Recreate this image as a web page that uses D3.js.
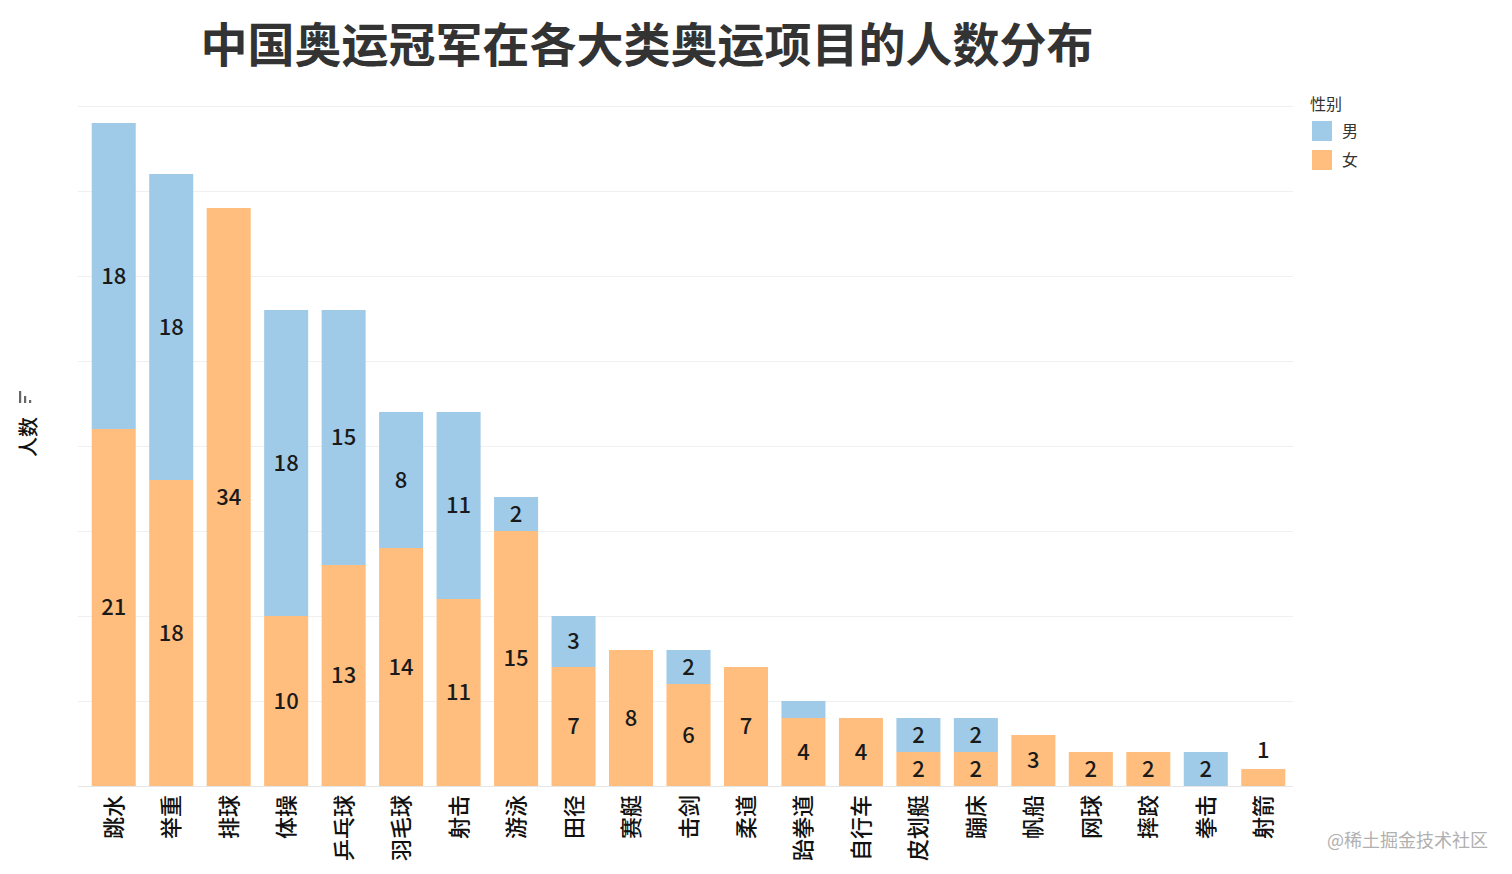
<!DOCTYPE html>
<html>
<head>
<meta charset="utf-8">
<script src="https://cdn.jsdelivr.net/npm/d3@7"></script>
<style>
  html, body { margin: 0; padding: 0; background: #fff; }
  svg { display: block; font-family: "Noto Sans CJK SC", "Noto Sans", sans-serif; }
</style>
</head>
<body>
<div id="chart"></div>
<script>
// 数据
const sports = ['跳水', '举重', '排球', '体操', '乒乓球', '羽毛球', '射击', '游泳', '田径', '赛艇',
  '击剑', '柔道', '跆拳道', '自行车', '皮划艇', '蹦床', '帆船', '网球', '摔跤', '拳击', '射箭'];
const female = [21, 18, 34, 10, 13, 14, 11, 15, 7, 8, 6, 7, 4, 4, 2, 2, 3, 2, 2, 0, 1];
const male = [18, 18, 0, 18, 15, 8, 11, 2, 3, 0, 2, 0, 1, 0, 2, 2, 0, 0, 0, 2, 0];
const genders = ['男', '女'];
const yTicks = [0, 5, 10, 15, 20, 25, 30, 35, 40];

const config = {
  width: 1512,
  height: 874,
  plot: { left: 85, right: 1292, top: 106, bottom: 786 },
  colors: { '男': '#a0cbe8', '女': '#ffbe7d' }
};

const svg = d3.select('#chart').append('svg')
  .attr('width', config.width)
  .attr('height', config.height);

const rows = sports.map((s, i) => ({ sport: s, 女: female[i], 男: male[i] }));
// 女在下，男在上
const stacked = d3.stack().keys(['女', '男'])(rows);

const xScale = d3.scaleBand()
  .domain(sports)
  .range([config.plot.left, config.plot.right])
  .paddingInner(0.234)
  .paddingOuter(0.117);

const yScale = d3.scaleLinear()
  .domain([0, 40])
  .range([config.plot.bottom, config.plot.top]);

// 网格线
svg.append('g')
  .selectAll('line')
  .data(yTicks)
  .join('line')
  .attr('x1', 78)
  .attr('x2', 1293)
  .attr('y1', d => yScale(d) + 0.5)
  .attr('y2', d => yScale(d) + 0.5)
  .attr('stroke', d => d === 0 ? '#e6e6e6' : '#f0f0f0')
  .attr('stroke-width', 1);

// 柱子
const layers = svg.append('g').selectAll('g')
  .data(stacked)
  .join('g')
  .attr('fill', d => config.colors[d.key]);

layers.selectAll('rect')
  .data(d => d)
  .join('rect')
  .attr('x', d => xScale(d.data.sport))
  .attr('y', d => yScale(d[1]))
  .attr('width', xScale.bandwidth())
  .attr('height', d => yScale(d[0]) - yScale(d[1]));

// 数值标签
const labels = [];
stacked.forEach(layer => {
  layer.forEach(d => {
    const v = d[1] - d[0];
    if (v <= 0) return;
    const h = yScale(d[0]) - yScale(d[1]);
    const isTop = layer.key === '男' || d.data['男'] === 0;
    if (h < 20) {
      // 太小：只在最顶层且无其它段时放到柱子上方
      if (isTop && d[0] === 0) {
        labels.push({ x: xScale(d.data.sport) + xScale.bandwidth() / 2, y: yScale(d[1]) - 19, v });
      }
      return;
    }
    labels.push({ x: xScale(d.data.sport) + xScale.bandwidth() / 2, y: (yScale(d[0]) + yScale(d[1])) / 2, v });
  });
});

svg.append('g')
  .selectAll('text')
  .data(labels)
  .join('text')
  .attr('x', d => d.x)
  .attr('y', d => d.y)
  .attr('dy', '0.36em')
  .attr('text-anchor', 'middle')
  .attr('font-size', 22)
  .attr('font-weight', 500)
  .attr('fill', '#1a1a1a')
  .text(d => d.v);

// X 轴标签（竖排）
svg.append('g')
  .selectAll('text')
  .data(sports)
  .join('text')
  .attr('transform', d => `translate(${xScale(d) + xScale.bandwidth() / 2 + 8}, 795) rotate(-90)`)
  .attr('text-anchor', 'end')
  .attr('font-size', 22)
  .attr('font-weight', 500)
  .attr('fill', '#111')
  .text(d => d);

// Y 轴标题
svg.append('text')
  .attr('transform', 'translate(36, 437) rotate(-90)')
  .attr('text-anchor', 'middle')
  .attr('font-size', 20)
  .attr('font-weight', 500)
  .attr('fill', '#111')
  .text('人数');

// 排序小图标
const icon = svg.append('g').attr('fill', '#666');
[12, 7, 3].forEach((h, i) => {
  icon.append('rect')
    .attr('x', 19 + i * 5)
    .attr('y', 403 - h)
    .attr('width', 2.2)
    .attr('height', h);
});

// 标题
svg.append('text')
  .attr('x', 647)
  .attr('y', 62)
  .attr('text-anchor', 'middle')
  .attr('font-size', 47)
  .attr('font-weight', 700)
  .attr('fill', '#333')
  .text('中国奥运冠军在各大类奥运项目的人数分布');

// 图例
const legend = svg.append('g').attr('transform', 'translate(1310, 0)');
legend.append('text')
  .attr('x', 0)
  .attr('y', 110)
  .attr('font-size', 16)
  .attr('fill', '#333')
  .text('性别');

const items = legend.selectAll('g.item')
  .data(genders)
  .join('g')
  .attr('class', 'item')
  .attr('transform', (d, i) => `translate(2, ${121 + i * 29})`);

items.append('rect')
  .attr('width', 20)
  .attr('height', 20)
  .attr('fill', d => config.colors[d]);

items.append('text')
  .attr('x', 30)
  .attr('y', 16)
  .attr('font-size', 16)
  .attr('fill', '#333')
  .text(d => d);

// 水印
svg.append('text')
  .attr('x', 1488)
  .attr('y', 847)
  .attr('text-anchor', 'end')
  .attr('font-size', 18)
  .attr('fill', '#b0b0b0')
  .text('@稀土掘金技术社区');
</script>
</body>
</html>
